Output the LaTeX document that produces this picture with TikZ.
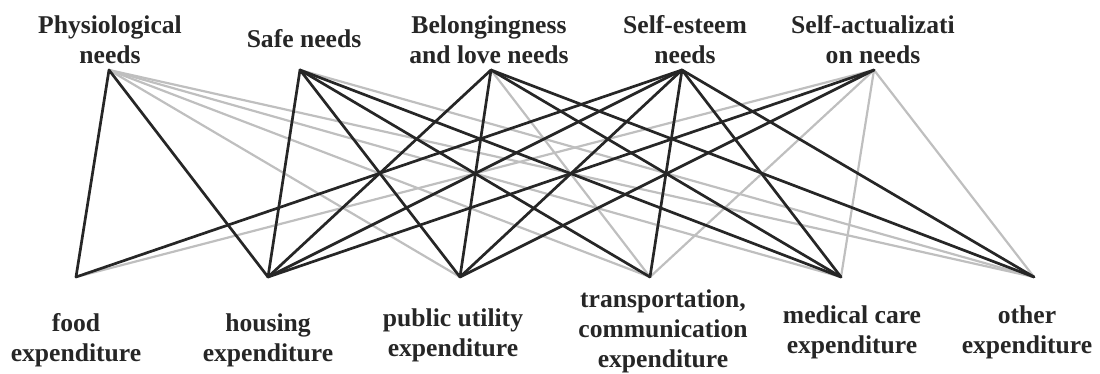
\documentclass[tikz,border=0pt]{standalone}
\usepackage{fontspec}
\setmainfont{Liberation Serif}

\begin{document}
\begin{tikzpicture}[x=0.5pt, y=0.5pt,
    lbl/.style={font=\fontsize{12.8}{15}\selectfont\bfseries, text=black!85, align=center, inner sep=0pt},
    strong/.style={black!85, line width=1.35pt, line cap=round},
    weak/.style={black!25, line width=1.1pt, line cap=round}]
    \useasboundingbox (0,0) rectangle (1100,374);
    % needs
    \coordinate (phys) at (109,304);
    \coordinate (safe) at (300,304);
    \coordinate (love) at (491,304);
    \coordinate (esteem) at (682,304);
    \coordinate (actual) at (874,304);
    % expenditures
    \coordinate (food) at (76,97);
    \coordinate (house) at (268,97);
    \coordinate (util) at (460,97);
    \coordinate (trans) at (650,97);
    \coordinate (med) at (841,97);
    \coordinate (other) at (1034,97);
    \foreach \a/\b in {phys/util, phys/trans, phys/med, phys/other, safe/other,
        love/trans, actual/food, actual/trans, actual/med, actual/other}
        \draw [weak] (\a) -- (\b);
    \foreach \a/\b in {phys/food, phys/house, safe/house, safe/util, safe/trans, safe/med,
        love/house, love/util, love/med, love/other, esteem/food, esteem/house,
        esteem/util, esteem/trans, esteem/med, esteem/other, actual/house, actual/util}
        \draw [strong] (\a) -- (\b);
    \node [lbl] (physL) at (110,334) {Physiological\\needs};
    \node [lbl] (safeL) at (304,335) {Safe needs};
    \node [lbl] (loveL) at (489,334) {Belongingness\\and love needs};
    \node [lbl] (esteemL) at (685,334) {Self-esteem\\needs};
    \node [lbl] (actualL) at (873,334) {Self-actualizati\\on needs};
    \node [lbl] (foodL) at (76,34) {food\\expenditure};
    \node [lbl] (houseL) at (268,34) {housing\\expenditure};
    \node [lbl] (utilL) at (453,39) {public utility\\expenditure};
    \node [lbl] (transL) at (663,43) {transportation,\\communication\\expenditure};
    \node [lbl] (medL) at (852,42) {medical care\\expenditure};
    \node [lbl] (otherL) at (1027,42) {other\\expenditure};
\end{tikzpicture}
\end{document}
